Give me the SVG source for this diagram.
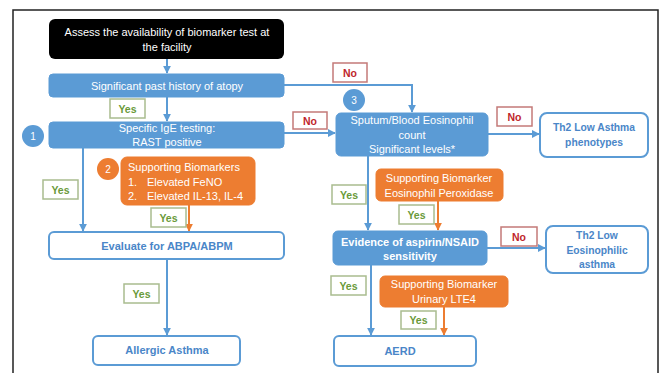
<svg xmlns="http://www.w3.org/2000/svg" width="661" height="373" viewBox="0 0 661 373">
<defs>
<style>
text{font-family:"Liberation Sans",Arial,sans-serif;font-size:11px;text-anchor:middle;dominant-baseline:central}
.blue{fill:#5B9BD5;stroke:#5B9BD5;stroke-width:1}
.white{fill:#fff;stroke:#5B9BD5;stroke-width:2}
.orange{fill:#ED7D31;stroke:#ED7D31}
.wt{fill:#fff}
.bt{fill:#4A86C8;font-weight:bold}
.sm{font-size:10.3px}
.yes{fill:#fff;stroke:#A9BC8F;stroke-width:1.5}
.yt{fill:#6A9A3A;font-weight:bold;font-size:10.5px}
.no{fill:#fff;stroke:#C47A78;stroke-width:1.5}
.nt{fill:#C0262B;font-weight:bold;font-size:10.5px}
.cb{stroke:#5B9BD5;stroke-width:2;fill:none;marker-end:url(#ab)}
.co{stroke:#ED7D31;stroke-width:2;fill:none;marker-end:url(#ao)}
</style>
<marker id="ab" viewBox="0 0 10 10" refX="9" refY="5" markerWidth="4" markerHeight="4" orient="auto"><path d="M0,0L10,5L0,10z" fill="#5B9BD5"/></marker>
<marker id="ao" viewBox="0 0 10 10" refX="9" refY="5" markerWidth="4" markerHeight="4" orient="auto"><path d="M0,0L10,5L0,10z" fill="#ED7D31"/></marker>
</defs>
<rect x="0" y="0" width="661" height="373" fill="#fff"/>
<path d="M13,380V10H658V380" fill="none" stroke="#222" stroke-width="1.5"/>

<g id="connectors">
<path class="cb" d="M167,59V73"/>
<path class="cb" d="M167,97V121"/>
<path class="cb" d="M284,85H412V112"/>
<path class="cb" d="M284,133H335"/>
<path class="cb" d="M83,148V231"/>
<path class="co" d="M189,205V231"/>
<path class="cb" d="M167,259V335"/>
<path class="cb" d="M488,134H539"/>
<path class="cb" d="M368,156V230"/>
<path class="co" d="M438,201V230"/>
<path class="cb" d="M487,248H545"/>
<path class="cb" d="M371,265V335"/>
<path class="co" d="M444,307V335"/>
</g>

<g id="assess"><rect x="49" y="19" width="235" height="40" rx="6" fill="#000"/>
<text class="wt" x="167" y="32">Assess the availability of biomarker test at</text>
<text class="wt" x="167" y="47">the facility</text></g>

<g id="atopy"><rect class="blue" x="49" y="74" width="235" height="23" rx="4"/>
<text class="wt" x="167" y="86">Significant past history of atopy</text></g>

<g id="ige"><rect class="blue" x="49" y="122" width="235" height="26" rx="4"/>
<text class="wt" x="167" y="128">Specific IgE testing:</text>
<text class="wt" x="167" y="142">RAST positive</text></g>

<g id="c1"><circle cx="33" cy="136" r="11" fill="#5B9BD5"/><text class="wt" x="33" y="136" style="font-size:10px">1</text></g>

<g id="c2"><circle cx="108" cy="169" r="11" fill="#ED7D31"/><text class="wt" x="108" y="169" style="font-size:10px">2</text></g>

<g id="support1"><rect class="orange" x="121" y="157" width="134" height="48" rx="6"/>
<text class="wt" x="128" y="167" style="text-anchor:start">Supporting Biomarkers</text>
<text class="wt" x="128" y="182" style="text-anchor:start">1.</text>
<text class="wt" x="147" y="182" style="text-anchor:start">Elevated FeNO</text>
<text class="wt" x="128" y="196" style="text-anchor:start">2.</text>
<text class="wt" x="147" y="196" style="text-anchor:start">Elevated IL-13, IL-4</text></g>

<g id="evaluate"><rect class="white" x="49" y="232" width="235" height="27" rx="5"/>
<text class="bt" x="167" y="246">Evaluate for ABPA/ABPM</text></g>

<g id="allergic"><rect class="white" x="93" y="336" width="147" height="29" rx="5"/>
<text class="bt" x="167" y="350">Allergic Asthma</text></g>

<g id="c3"><circle cx="354" cy="100" r="11" fill="#5B9BD5"/><text class="wt" x="354" y="100" style="font-size:10px">3</text></g>

<g id="sputum"><rect class="blue" x="336" y="113" width="152" height="43" rx="5"/>
<text class="wt" x="412" y="120">Sputum/Blood Eosinophil</text>
<text class="wt" x="412" y="135">count</text>
<text class="wt" x="412" y="149">Significant levels*</text></g>

<g id="th2low"><rect class="white" x="540" y="113" width="108" height="44" rx="7"/>
<text class="bt sm" x="594" y="127">Th2 Low Asthma</text>
<text class="bt sm" x="594" y="142">phenotypes</text></g>

<g id="support2"><rect class="orange" x="376" y="169" width="127" height="32" rx="5"/>
<text class="wt" x="439" y="178">Supporting Biomarker</text>
<text class="wt" x="439" y="193">Eosinophil Peroxidase</text></g>

<g id="aspirin"><rect class="blue" x="333" y="231" width="154" height="34" rx="5"/>
<text class="wt" x="410" y="242" style="font-weight:bold">Evidence of aspirin/NSAID</text>
<text class="wt" x="410" y="256" style="font-weight:bold">sensitivity</text></g>

<g id="th2eos"><rect class="white" x="546" y="226" width="102" height="47" rx="7"/>
<text class="bt sm" x="597" y="235">Th2 Low</text>
<text class="bt sm" x="597" y="250">Eosinophilic</text>
<text class="bt sm" x="597" y="264">asthma</text></g>

<g id="support3"><rect class="orange" x="380" y="276" width="128" height="31" rx="5"/>
<text class="wt" x="444" y="284">Supporting Biomarker</text>
<text class="wt" x="444" y="299">Urinary LTE4</text></g>

<g id="aerd"><rect class="white" x="334" y="336" width="142" height="30" rx="5"/>
<text class="bt" x="400" y="351">AERD</text></g>

<g id="labels">
<rect class="no" x="333" y="63" width="34" height="19"/><text class="nt" x="350" y="72.5">No</text>
<rect class="yes" x="110" y="99" width="35" height="19"/><text class="yt" x="127.5" y="108.5">Yes</text>
<rect class="no" x="293" y="112" width="34" height="17"/><text class="nt" x="310" y="120.5">No</text>
<rect class="no" x="497" y="107" width="35" height="19"/><text class="nt" x="514.5" y="116.5">No</text>
<rect class="yes" x="43" y="180" width="35" height="19"/><text class="yt" x="60.5" y="189.5">Yes</text>
<rect class="yes" x="151" y="208" width="35" height="19"/><text class="yt" x="168.5" y="217.5">Yes</text>
<rect class="yes" x="124" y="284" width="35" height="19"/><text class="yt" x="141.5" y="293.5">Yes</text>
<rect class="yes" x="332" y="185" width="34" height="19"/><text class="yt" x="349" y="194.5">Yes</text>
<rect class="yes" x="399" y="205" width="35" height="19"/><text class="yt" x="416.5" y="214.5">Yes</text>
<rect class="no" x="501" y="227" width="36" height="19"/><text class="nt" x="519" y="236.5">No</text>
<rect class="yes" x="331" y="276" width="35" height="19"/><text class="yt" x="348.5" y="285.5">Yes</text>
<rect class="yes" x="401" y="311" width="35" height="18"/><text class="yt" x="418.5" y="320">Yes</text>
</g>
</svg>
